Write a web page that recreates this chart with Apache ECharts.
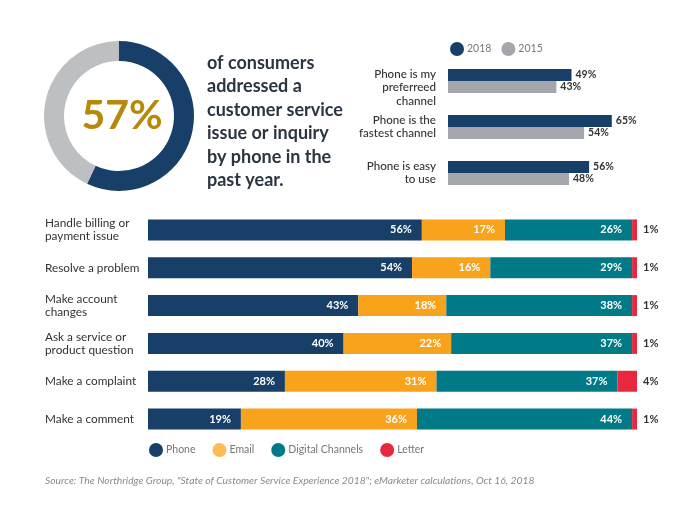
<!DOCTYPE html>
<html>
<head>
<meta charset="utf-8">
<script src="https://cdn.jsdelivr.net/npm/echarts@6/dist/echarts.min.js"></script>
<style>html,body{margin:0;padding:0;background:#fff}#c{width:700px;height:525px}</style>
</head>
<body>
<div id="c"></div>
<script>
// ---- data ----
var donutLabel = '57%';
var donutValues = [57, 43];
var donutNames = ['Phone', 'Other'];
var headline = ['of consumers', 'addressed a', 'customer service', 'issue or inquiry', 'by phone in the', 'past year.'];

var topCategories = ['Phone is my\npreferreed\nchannel', 'Phone is the\nfastest channel', 'Phone is easy\nto use'];
var topYears = ['2018', '2015'];
var top2018 = [49, 65, 56];
var top2015 = [43, 54, 48];

var categories = ['Handle billing or\npayment issue', 'Resolve a problem', 'Make account\nchanges', 'Ask a service or\nproduct question', 'Make a complaint', 'Make a comment'];
var channelNames = ['Phone', 'Email', 'Digital Channels', 'Letter'];
var phone = [56, 54, 43, 40, 28, 19];
var email = [17, 16, 18, 22, 31, 36];
var digital = [26, 29, 38, 37, 37, 44];
var letter = [1, 1, 1, 1, 4, 1];

var sourceText = 'Source: The Northridge Group, "State of Customer Service Experience 2018"; eMarketer calculations, Oct 16, 2018';

// ---- style ----
var FONT = 'Lato, "Open Sans", sans-serif';
var NAVY = '#173f67', ORANGE = '#f9a21b', TEAL = '#007a86', RED = '#e8283e', GREY = '#a3a6aa';
var chColors = [NAVY, ORANGE, TEAL, RED];
var chValues = [phone, email, digital, letter];

var chart = echarts.init(document.getElementById('c'), null, {renderer: 'canvas'});

var series = [
  {
    type: 'pie', center: [119, 116], radius: [55, 75], startAngle: 90, clockwise: true,
    silent: true, label: {show: false}, labelLine: {show: false},
    data: donutValues.map(function (v, i) { return {value: v, name: donutNames[i], itemStyle: {color: i === 0 ? NAVY : '#bdc0c3'}}; })
  },
  {
    type: 'bar', name: topYears[0], xAxisIndex: 0, yAxisIndex: 0, data: top2018, barWidth: 12, barGap: '0%',
    itemStyle: {color: NAVY},
    label: {show: true, position: 'right', distance: 4, formatter: '{c}%', color: '#333', fontSize: 10.5, fontWeight: 'bold', fontFamily: FONT}
  },
  {
    type: 'bar', name: topYears[1], xAxisIndex: 0, yAxisIndex: 0, data: top2015, barWidth: 12, barGap: '0%',
    itemStyle: {color: GREY},
    label: {show: true, position: 'right', distance: 4, formatter: '{c}%', color: '#333', fontSize: 10.5, fontWeight: 'bold', fontFamily: FONT}
  }
];
channelNames.forEach(function (n, i) {
  series.push({
    type: 'bar', name: n, stack: 'ch', xAxisIndex: 1, yAxisIndex: 1, data: chValues[i], barWidth: 21,
    itemStyle: {color: chColors[i]},
    label: i < 3 ? {show: true, position: 'insideRight', distance: 10, formatter: '{c}%', color: '#fff', fontSize: 11, fontWeight: 'bold', fontFamily: FONT}
                 : {show: true, position: 'right', distance: 6, formatter: '{c}%', color: '#333', fontSize: 11, fontWeight: 'bold', fontFamily: FONT}
  });
});

var option = {
  backgroundColor: '#fff',
  animation: false,
  textStyle: {fontFamily: FONT},
  grid: [
    {left: 448, top: 58, width: 286, height: 138},
    {left: 148, top: 211, width: 489, height: 227}
  ],
  xAxis: [
    {gridIndex: 0, type: 'value', min: 0, max: 100, show: false},
    {gridIndex: 1, type: 'value', min: 0, max: 100, show: false}
  ],
  yAxis: [
    {gridIndex: 0, type: 'category', inverse: true, data: topCategories,
     axisLine: {show: false}, axisTick: {show: false},
     axisLabel: {margin: 12, color: '#333', fontSize: 11.6, fontWeight: 500, lineHeight: 13.3, align: 'right', fontFamily: FONT,
       formatter: function (v, i) { return i === 0 ? '\n' + v : v; }}},
    {gridIndex: 1, type: 'category', inverse: true, data: categories,
     axisLine: {show: false}, axisTick: {show: false},
     axisLabel: {margin: 103, color: '#333', fontSize: 11.8, lineHeight: 13.4, align: 'left', fontFamily: FONT}}
  ],
  legend: [
    {data: topYears, left: 450, top: 42, padding: 0, icon: 'circle', itemWidth: 14, itemHeight: 14, itemGap: 10,
     textStyle: {color: '#777', fontSize: 10.5, padding: [0, 0, 0, -2]}, selectedMode: false},
    {data: [
       {name: 'Phone'}, {name: 'Email', itemStyle: {color: '#fdbb55'}}, {name: 'Digital Channels'}, {name: 'Letter'}
     ], left: 149, top: 443, padding: 0, icon: 'circle', itemWidth: 14, itemHeight: 14, itemGap: 17,
     textStyle: {color: '#777', fontSize: 10.5, padding: [0, 0, 0, -2]}, selectedMode: false}
  ],
  graphic: [
    {type: 'text', x: 122, y: 116, style: {text: donutLabel, fill: '#b8880a', font: 'bold 41px ' + FONT, align: 'center', verticalAlign: 'middle'}},
    {type: 'text', x: 207, y: 51, style: {text: headline.join('\n'), fill: '#2b3541', font: 'bold 18px ' + FONT, lineHeight: 23.5, verticalAlign: 'top'}},
    {type: 'text', x: 45, y: 481, style: {text: sourceText, fill: '#8a8a8a', font: 'italic 10.3px ' + FONT, verticalAlign: 'middle'}}
  ],
  series: series
};
chart.setOption(option);
</script>
</body>
</html>
